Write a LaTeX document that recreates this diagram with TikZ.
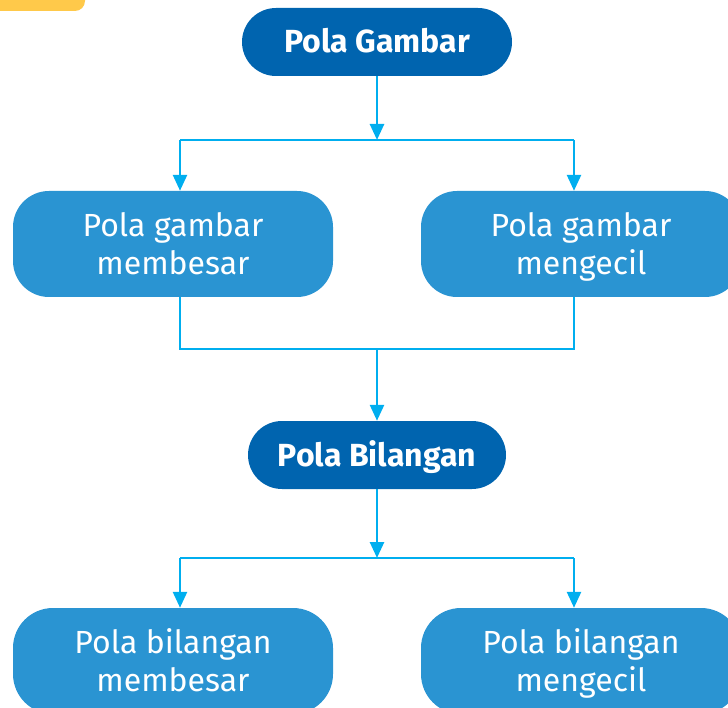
\documentclass[tikz,border=0pt]{standalone}
\usepackage{fontspec}
\setmainfont{Fira Sans}
\usetikzlibrary{arrows.meta}
\definecolor{darkblue}{HTML}{0064AF}
\definecolor{midblue}{HTML}{2A94D2}
\definecolor{linkcol}{HTML}{00AEEF}
\definecolor{tabyellow}{HTML}{FFC94A}
\newcommand{\topst}{\rule{0pt}{34pt}}
\tikzset{
  headbox/.style={fill=darkblue, text=white, rounded corners=34pt, minimum height=68pt, inner sep=0pt,
    text height=25pt, text depth=3pt,
    font=\fontsize{32}{38}\selectfont\bfseries},
  subbox/.style={fill=midblue, text=white, rounded corners=36pt, minimum width=320pt, minimum height=106pt, inner sep=0pt,
    align=center, font=\fontsize{32}{38}\selectfont},
  link/.style={draw=linkcol, line width=2.6pt},
  arr/.style={link, -{Triangle[length=16pt,width=14pt]}},
}
\begin{document}
\begin{tikzpicture}[x=1pt,y=1pt]
\useasboundingbox (0,0) rectangle (728,-708);
\clip (0,0) rectangle (728,-708);
% yellow tab
\fill[tabyellow, rounded corners=10pt] (-20,20) -- (85,20) -- (85,-11) -- (-20,-11) -- cycle;
% nodes
\node[headbox, minimum width=270pt] (pg) at (377,-42) {Pola Gambar};
\node[subbox] (b1) at (173,-244) {\topst Pola gambar\\membesar\strut};
\node[subbox] (b2) at (581,-244) {\topst Pola gambar\\mengecil\strut};
\node[headbox, minimum width=258pt] (pb) at (377,-455) {Pola Bilangan};
\node[subbox, rounded corners=40pt] (b3) at (173,-661) {\topst Pola bilangan\\membesar\strut};
\node[subbox, rounded corners=40pt] (b4) at (581,-661) {\topst Pola bilangan\\mengecil\strut};
% junction coordinates
\coordinate (j1) at (377,-140);
\coordinate (l1) at (180,-140);
\coordinate (r1) at (574,-140);
\coordinate (j2) at (377,-349);
\coordinate (l2) at (180,-349);
\coordinate (r2) at (574,-349);
\coordinate (j3) at (377,-558);
\coordinate (l3) at (180,-558);
\coordinate (r3) at (574,-558);
% connectors
\draw[arr] (pg.south) -- (j1);
\draw[link] (l1) -- (r1);
\draw[arr] (l1) -- (l1 |- b1.north);
\draw[arr] (r1) -- (r1 |- b2.north);
\draw[link] (l2 |- b1.south) -- (l2) -- (r2) -- (r2 |- b2.south);
\draw[arr] (j2) -- (pb.north);
\draw[arr] (pb.south) -- (j3);
\draw[link] (l3) -- (r3);
\draw[arr] (l3) -- (l3 |- b3.north);
\draw[arr] (r3) -- (r3 |- b4.north);
\end{tikzpicture}
\end{document}
